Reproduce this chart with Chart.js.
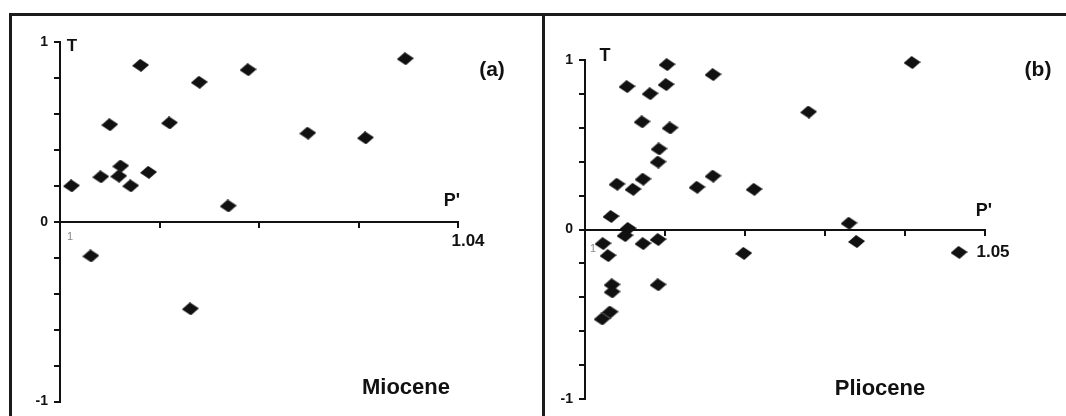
<!DOCTYPE html>
<html>
<head>
<meta charset="utf-8">
<script src="https://cdn.jsdelivr.net/npm/chart.js@4.4.1/dist/chart.umd.min.js"></script>
<style>
  body { margin: 0; background: #fff; }
  #wrap {
    position: relative; width: 1066px; height: 416px; overflow: hidden;
    background: #fff; font-family: "Liberation Sans", Arial, sans-serif; color: #111;
  }
  .frame { position: absolute; background: #1b1b1b; }
  #box-a { position: absolute; left: 0; top: 0; }
  #box-b { position: absolute; left: 543px; top: 0; }
  .lbl {
    position: absolute; font-weight: bold; white-space: nowrap; line-height: 1;
    transform: translate(-50%, -50%);
  }
</style>
</head>
<body>
<div id="wrap">
  <canvas id="box-a" width="543" height="416"></canvas>
  <canvas id="box-b" width="523" height="416"></canvas>

  <div class="frame" style="left:9px;top:13px;width:1057px;height:3px"></div>
  <div class="frame" style="left:9px;top:13px;width:3px;height:403px"></div>
  <div class="frame" style="left:542px;top:13px;width:3px;height:403px"></div>

  <div class="lbl" style="left:72px;top:45px;font-size:17px">T</div>
  <div class="lbl" style="left:452px;top:200px;font-size:18px">P'</div>
  <div class="lbl" style="left:492px;top:68px;font-size:21px">(a)</div>
  <div class="lbl" style="left:406px;top:387px;font-size:22px">Miocene</div>

  <div class="lbl" style="left:605px;top:55px;font-size:18px">T</div>
  <div class="lbl" style="left:984px;top:210px;font-size:18px">P'</div>
  <div class="lbl" style="left:1038px;top:68px;font-size:21px">(b)</div>
  <div class="lbl" style="left:880px;top:388px;font-size:22px">Pliocene</div>
</div>

<script>
// Miocene (a): P' against T
const mioceneP = [1.00115, 1.0031, 1.0041, 1.0050, 1.0061, 1.0059, 1.0071, 1.0081, 1.0089,
  1.0110, 1.0131, 1.0140, 1.0169, 1.0189, 1.0249, 1.0307, 1.0347];
const mioceneT = [0.20, -0.19, 0.25, 0.54, 0.31, 0.254, 0.20, 0.87, 0.275,
  0.55, -0.484, 0.776, 0.088, 0.846, 0.493, 0.467, 0.907];

// Pliocene (b)
const plioceneP = [1.01025, 1.0160, 1.00525, 1.01013, 1.00813, 1.04088, 1.02795, 1.00713, 1.01063,
  1.00925, 1.00913, 1.0040, 1.00725, 1.0060, 1.0140, 1.0160, 1.02113, 1.00325, 1.00538,
  1.0050, 1.00725, 1.00913, 1.00225, 1.00288, 1.00338, 1.00338, 1.00913, 1.00313, 1.00213,
  1.01984, 1.0330, 1.03394, 1.04675];
const plioceneT = [0.973, 0.914, 0.843, 0.855, 0.801, 0.985, 0.693, 0.635, 0.599,
  0.475, 0.398, 0.267, 0.297, 0.237, 0.249, 0.315, 0.237, 0.077, 0.006,
  -0.036, -0.083, -0.059, -0.083, -0.154, -0.326, -0.368, -0.326, -0.487, -0.528,
  -0.141, 0.037, -0.071, -0.135];

const yTickLabels = ["-1", "0", "1"];
const fontFamily = '"Liberation Sans", Arial, sans-serif';

// flattened, slightly tilted diamond marker
const makeDiamond = () => {
  const c = document.createElement("canvas");
  c.width = 17;
  c.height = 13;
  const g = c.getContext("2d");
  g.fillStyle = "#111";
  g.beginPath();
  g.moveTo(8, 0);
  g.lineTo(17, 6);
  g.lineTo(9, 13);
  g.lineTo(0, 7);
  g.closePath();
  g.fill();
  return c;
};
const diamond = makeDiamond();

const makeChart = (id, xs, ys, xMax, xLabels, layoutPad, labelOffset, labelPad) => {
  const points = xs.map((x, i) => ({ x: x, y: ys[i] }));
  return new Chart(document.getElementById(id), {
    type: "scatter",
    data: {
      datasets: [
        {
          data: points,
          pointStyle: diamond,
          pointRadius: 8,
          clip: false,
          backgroundColor: "#111",
          borderColor: "#111",
        },
      ],
    },
    options: {
      responsive: false,
      animation: false,
      layout: { padding: layoutPad },
      plugins: { legend: { display: false }, tooltip: { enabled: false } },
      scales: {
        x: {
          type: "linear",
          position: { y: 0 },
          min: 1,
          max: xMax,
          grid: { drawOnChartArea: false, drawTicks: true, tickLength: 5, color: "#111", lineWidth: 2 },
          border: { display: true, color: "#111", width: 2 },
          ticks: {
            stepSize: 0.01,
            autoSkip: false,
            maxRotation: 0,
            labelOffset: labelOffset,
            padding: labelPad,
            color: (ctx) => (ctx.index === 0 ? "#888" : "#111"),
            font: (ctx) =>
              ctx.index === 0
                ? { family: fontFamily, size: 11, weight: "normal" }
                : { family: fontFamily, size: 17, weight: "bold" },
            callback: (value) => {
              const v = Math.round(value * 100) / 100;
              return xLabels.includes(String(v)) ? String(v) : "";
            },
          },
        },
        y: {
          type: "linear",
          position: "left",
          min: -1,
          max: 1,
          afterFit: (scale) => {
            scale.width = 40;
          },
          grid: { drawOnChartArea: false, drawTicks: true, tickLength: 6, color: "#111", lineWidth: 2 },
          border: { display: true, color: "#111", width: 2 },
          ticks: {
            stepSize: 0.2,
            autoSkip: false,
            padding: 6,
            color: "#111",
            font: { family: fontFamily, size: 14, weight: "bold" },
            callback: (value) => {
              const v = String(Math.round(value * 10) / 10);
              return yTickLabels.includes(v) ? v : "";
            },
          },
        },
      },
    },
  });
};

makeChart("box-a", mioceneP, mioceneT, 1.04, ["1", "1.04"],
  { left: 20, right: 85, top: 42, bottom: 6 }, 10, 4);
makeChart("box-b", plioceneP, plioceneT, 1.05, ["1", "1.05"],
  { left: 2, right: 81, top: 60, bottom: 17 }, 8, 8);
</script>
</body>
</html>
